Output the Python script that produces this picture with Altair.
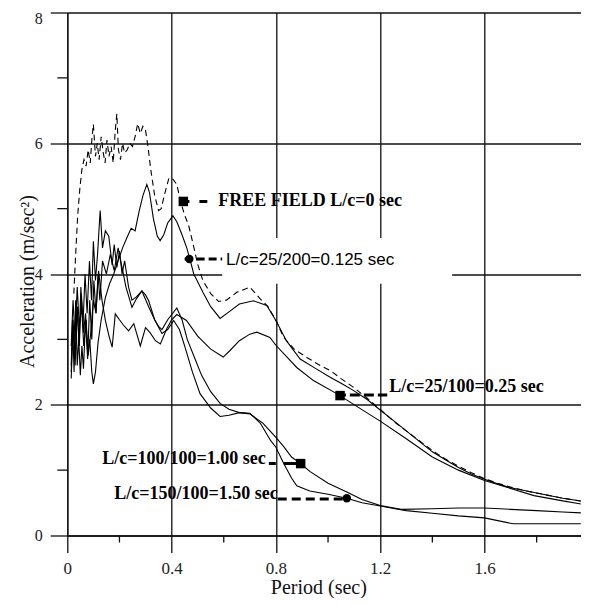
import altair as alt
import pandas as pd

# ---------------- data ----------------
ff_x = [0.025,0.032,0.04,0.048,0.056,0.064,0.072,0.08,0.088,0.095,0.1,0.108,0.115,0.122,0.13,0.138,0.145,0.152,0.16,0.168,
        0.176,0.184,0.19,0.196,0.204,0.212,0.22,0.23,0.24,0.25,0.26,0.27,0.28,0.29,0.30,0.31,0.32,0.335,0.35,0.36,
        0.375,0.39,0.405,0.42,0.435,0.45,0.465,0.48,0.50,0.52,0.55,0.58,0.61,0.65,0.70,0.74,0.77,0.80,0.83,0.87,
        0.92,0.97,1.01,1.05,1.10,1.15,1.20,1.25,1.30,1.35,1.40,1.45,1.50,1.55,1.60,1.65,1.70,1.75,1.80,1.85,
        1.90,1.95,2.0]
ff_y = [3.7,4.3,4.9,5.3,5.6,5.75,5.65,5.9,5.7,6.1,6.29,5.8,6.0,5.75,6.1,5.85,5.7,6.05,5.8,5.95,
        5.7,6.2,6.45,5.9,5.75,6.0,5.85,5.9,6.0,5.95,6.1,6.3,6.15,6.26,6.2,5.93,5.6,5.2,4.97,5.0,
        5.25,5.47,5.45,5.37,5.1,4.9,4.75,4.5,4.15,3.9,3.7,3.58,3.6,3.72,3.8,3.62,3.5,3.29,3.03,2.85,
        2.72,2.6,2.52,2.4,2.26,2.1,1.93,1.75,1.6,1.45,1.3,1.17,1.06,0.96,0.87,0.8,0.74,0.69,0.65,0.61,
        0.57,0.54,0.5]

c125_x = [0.015,0.022,0.03,0.038,0.046,0.054,0.062,0.07,0.078,0.086,0.094,0.10,0.108,0.118,0.13,0.146,0.162,0.178,0.195,0.212,
          0.228,0.245,0.26,0.275,0.29,0.305,0.315,0.33,0.345,0.356,0.37,0.385,0.405,0.42,0.44,0.458,0.47,0.485,0.50,0.52,
          0.55,0.586,0.62,0.66,0.714,0.765,0.80,0.84,0.893,0.95,1.008,1.05,1.097,1.15,1.20,1.25,1.30,1.35,1.40,1.45,
          1.50,1.55,1.60,1.65,1.70,1.80,1.90,2.0]
c125_y = [2.5,3.3,2.7,3.5,2.9,3.7,3.1,3.4,2.8,3.0,2.5,2.32,2.5,2.95,3.3,3.64,3.85,4.0,4.2,4.4,
          4.55,4.7,4.66,4.95,5.2,5.37,5.25,4.85,4.58,4.51,4.6,4.78,4.89,4.8,4.6,4.4,4.23,4.0,3.88,3.72,
          3.5,3.32,3.42,3.54,3.59,3.52,3.29,2.98,2.70,2.56,2.42,2.33,2.22,2.08,1.92,1.76,1.6,1.44,1.28,1.16,
          1.04,0.94,0.86,0.79,0.73,0.65,0.57,0.51]

c25_x = [0.015,0.022,0.03,0.038,0.046,0.055,0.063,0.072,0.08,0.09,0.10,0.11,0.12,0.133,0.146,0.16,0.172,0.184,0.20,0.215,
         0.235,0.255,0.28,0.30,0.318,0.338,0.357,0.38,0.40,0.42,0.457,0.50,0.55,0.598,0.624,0.66,0.70,0.727,0.777,0.80,
         0.88,0.944,1.033,1.136,1.20,1.30,1.40,1.50,1.60,1.70,1.79,1.90,2.0]
c25_y = [2.9,3.6,3.0,3.8,3.2,3.5,2.9,3.3,2.75,3.1,3.6,3.4,4.05,3.6,3.29,3.05,2.88,3.39,3.3,3.22,
         3.13,3.24,2.9,3.18,3.1,2.98,2.93,3.15,3.3,3.38,3.29,3.05,2.85,2.73,2.83,2.98,3.08,3.11,3.03,2.91,
         2.57,2.37,2.17,1.91,1.75,1.48,1.2,1.0,0.84,0.72,0.61,0.53,0.46]

c100_x = [0.015,0.022,0.03,0.038,0.045,0.052,0.06,0.068,0.076,0.085,0.093,0.10,0.108,0.116,0.126,0.135,0.146,0.159,0.172,0.18,
          0.19,0.20,0.21,0.22,0.235,0.248,0.265,0.286,0.312,0.335,0.35,0.363,0.385,0.42,0.44,0.46,0.49,0.515,0.55,0.586,
          0.62,0.66,0.70,0.75,0.80,0.83,0.86,0.895,0.93,1.0,1.07,1.13,1.2,1.28,1.4,1.5,1.6,1.7,1.8,1.9,2.0]
c100_y = [2.4,3.2,2.6,3.5,2.9,3.8,3.2,4.0,3.4,4.2,3.6,4.5,3.9,4.3,4.97,4.4,4.66,4.58,4.14,4.45,
          4.1,4.35,4.0,4.2,3.8,3.6,3.65,3.74,3.5,3.3,3.2,3.15,3.3,3.48,3.3,3.0,2.7,2.45,2.2,2.02,
          1.93,1.88,1.86,1.72,1.5,1.36,1.2,1.10,0.98,0.8,0.67,0.55,0.46,0.4,0.41,0.42,0.42,0.4,0.38,0.36,0.34]

c150_x = [0.015,0.02,0.026,0.032,0.038,0.044,0.05,0.056,0.062,0.07,0.078,0.086,0.094,0.102,0.11,0.118,0.125,0.135,0.15,0.165,
          0.18,0.195,0.21,0.225,0.248,0.265,0.286,0.3,0.312,0.335,0.363,0.385,0.408,0.43,0.45,0.48,0.509,0.55,0.586,0.62,
          0.66,0.70,0.74,0.78,0.80,0.83,0.86,0.88,0.93,1.0,1.072,1.13,1.2,1.3,1.4,1.5,1.6,1.66,1.71,1.8,2.0]
c150_y = [2.6,3.3,2.5,3.6,2.6,3.0,2.45,2.9,2.55,3.3,2.7,3.6,3.0,3.9,3.4,4.0,3.6,4.2,4.0,4.3,
          4.05,4.4,4.1,3.8,3.49,3.62,3.74,3.68,3.59,3.3,3.09,3.15,3.29,3.15,2.9,2.5,2.17,1.95,1.82,1.84,
          1.88,1.87,1.72,1.45,1.35,1.1,0.88,0.76,0.68,0.63,0.57,0.5,0.45,0.38,0.34,0.3,0.27,0.22,0.18,0.18,0.18]

x_ticks = [0, 0.4, 0.8, 1.2, 1.6, 2.0]
y_ticks = [0, 2, 4, 6, 8]
x_minor = [0.2, 0.6, 1.0, 1.4, 1.8]
y_minor = [1, 3, 5, 7]

# annotations
label_text = ["FREE FIELD L/c=0 sec", "L/c=25/200=0.125 sec", "L/c=25/100=0.25 sec",
              "L/c=100/100=1.00 sec", "L/c=150/100=1.50 sec"]
label_x = [0.579, 0.609, 1.235, 0.761, 0.807]
label_y = [5.12, 4.21, 2.27, 1.175, 0.63]
label_align = ["left", "left", "left", "right", "right"]
label_bold = [True, False, True, True, True]

marker_x = [0.445, 0.468, 1.046, 0.895, 1.072]
marker_y = [5.11, 4.23, 2.14, 1.10, 0.57]
marker_shape = ["square", "circle", "square", "square", "circle"]

leader_x1 = [0.43, 0.45, 1.03, 0.773, 0.807]
leader_x2 = [0.537, 0.594, 1.227, 0.895, 1.072]
leader_y = [5.11, 4.23, 2.15, 1.10, 0.56]
leader_dash = [[10, 10], [8, 4], [10, 4], [7, 8, 20], [9, 5]]

box_x = [0.594]
box_x2 = [1.476]
box_y = [3.85]
box_y2 = [4.55]

# ---------------- build ----------------
def series(name, xs, ys):
    return pd.DataFrame({"x": xs, "y": ys, "series": name, "i": range(len(xs))})

solid_df = pd.concat([series("0.125", c125_x, c125_y), series("0.25", c25_x, c25_y),
                      series("1.00", c100_x, c100_y), series("1.50", c150_x, c150_y)])
ff_df = series("FF", ff_x, ff_y)

SERIF = "Liberation Serif"
PX_PER_X = 260.75          # the picture is cut just before x = 2 at its right edge
W, H = 513.5, 523
X_MAX = W / PX_PER_X

xscale = alt.Scale(domain=[0, X_MAX], nice=False, zero=False)
yscale = alt.Scale(domain=[0, 8], nice=False, zero=False)

xaxis = alt.Axis(values=x_ticks, format=".1~f", grid=True, gridColor="#111", gridWidth=1.3,
                 tickSize=17, tickColor="#111", tickWidth=1.3, domainColor="#111", domainWidth=1.3,
                 labelFont=SERIF, labelFontSize=17, labelColor="#222", labelPadding=8, labelFlush=False,
                 title="Period (sec)", titleFont=SERIF, titleFontSize=20, titleFontWeight="normal",
                 titleColor="#111", titleX=251, titleY=58.5, titleBaseline="alphabetic", titleAlign="center")
yaxis = alt.Axis(values=y_ticks, format="d", grid=True, gridColor="#111", gridWidth=1.3,
                 tickSize=17, tickColor="#111", tickWidth=1.3, domainColor="#111", domainWidth=1.3,
                 labelFont=SERIF, labelFontSize=16, labelColor="#222", labelPadding=8,
                 labelOffset={"condition": {"test": "datum.value == 8", "value": 5.5}, "value": 0},
                 title="Acceleration (m/sec²)", titleFont=SERIF, titleFontSize=20, titleFontWeight="normal",
                 titleColor="#111", titleX=-40, titleY=268.5, titleAngle=270, titleBaseline="middle",
                 titleAlign="center")


def X(f="x:Q"):
    return alt.X(f, scale=xscale, axis=xaxis)


def Y(f="y:Q"):
    return alt.Y(f, scale=yscale, axis=yaxis)


solid = alt.Chart(solid_df).mark_line(color="black", strokeWidth=1.1, clip=True).encode(
    x=X(), y=Y(), detail="series:N", order="i:Q")

dashed = alt.Chart(ff_df).mark_line(color="black", strokeWidth=1.1, strokeDash=[6, 4], clip=True).encode(
    x=X(), y=Y(), order="i:Q")

box = alt.Chart(pd.DataFrame({"x": box_x, "x2": box_x2, "y": box_y, "y2": box_y2})).mark_rect(
    color="white").encode(x=X(), x2="x2:Q", y=Y(), y2="y2:Q")

xminor = alt.Chart(pd.DataFrame({"x": x_minor})).mark_rule(color="#111", strokeWidth=1.3).encode(
    x=X(), y=alt.value(H), y2=alt.value(H + 7))
yminor = alt.Chart(pd.DataFrame({"y": y_minor})).mark_rule(color="#111", strokeWidth=1.3).encode(
    y=Y(), x=alt.value(0), x2=alt.value(-10))

leaders = []
for a, b, yy, d in zip(leader_x1, leader_x2, leader_y, leader_dash):
    leaders.append(alt.Chart(pd.DataFrame({"x": [a], "x2": [b], "y": [yy]})).mark_rule(
        color="black", strokeWidth=3, strokeDash=d).encode(x=X(), x2="x2:Q", y=Y()))

mk_df = pd.DataFrame({"x": marker_x, "y": marker_y, "shape": marker_shape})
markers_sq = alt.Chart(mk_df[mk_df["shape"] == "square"]).mark_point(
    shape="square", filled=True, color="black", size=90, opacity=1).encode(x=X(), y=Y())
markers_ci = alt.Chart(mk_df[mk_df["shape"] == "circle"]).mark_point(
    shape="circle", filled=True, color="black", size=70, opacity=1).encode(x=X(), y=Y())

lab_df = pd.DataFrame({"text": label_text, "x": label_x, "y": label_y,
                       "align": label_align, "bold": label_bold})
texts = []
for al in ["left", "right"]:
    sub = lab_df[(lab_df["align"] == al) & (lab_df["bold"])]
    texts.append(alt.Chart(sub).mark_text(align=al, baseline="middle", font=SERIF, fontSize=18,
                                          fontWeight="bold", color="black").encode(
        x=X(), y=Y(), text="text:N"))
sub = lab_df[~lab_df["bold"]]
texts.append(alt.Chart(sub).mark_text(align="left", baseline="middle", font="Liberation Sans",
                                      fontSize=17, color="black").encode(
    x=X(), y=Y(), text="text:N"))

chart = alt.layer(solid, dashed, box, xminor, yminor, *leaders, markers_sq, markers_ci, *texts).properties(
    width=W, height=H,
    autosize=alt.AutoSizeParams(type="none"),
    padding={"left": 59.3, "top": 4.5, "right": 0, "bottom": 62.5},
    background="white",
).configure_view(stroke=None)

chart.save("out.html", embed_options={"renderer": "svg", "actions": False})
